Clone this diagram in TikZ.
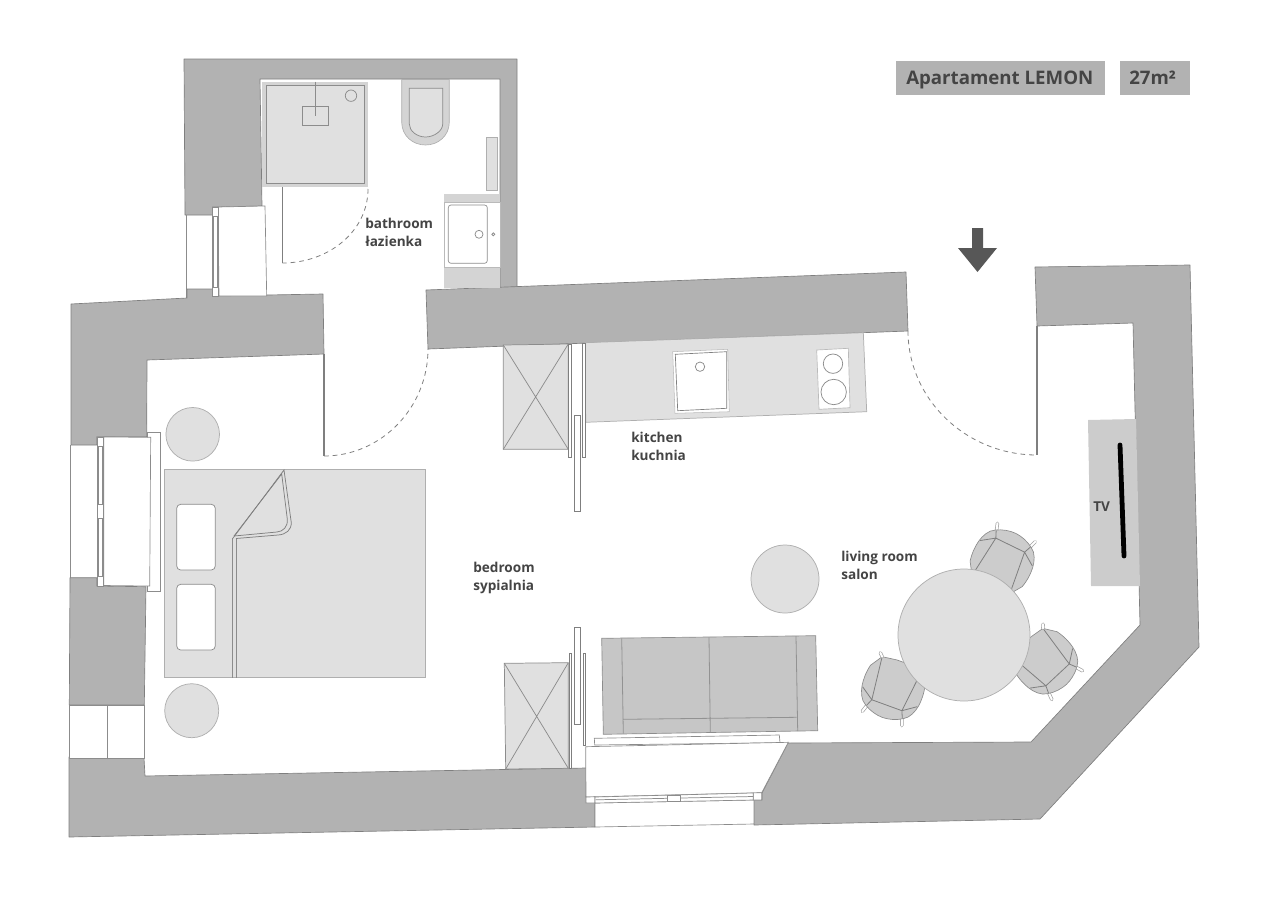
\documentclass[tikz,border=0pt]{standalone}
\usepackage{fontspec}
\setmainfont{Open Sans}
\definecolor{wallc}{HTML}{B2B2B2}
\definecolor{edgec}{HTML}{7F7F7F}
\definecolor{lightf}{HTML}{E0E0E0}
\definecolor{midf}{HTML}{CCCCCC}
\definecolor{sofaf}{HTML}{C6C6C6}
\definecolor{linec}{HTML}{8C8C8C}
\definecolor{txt}{HTML}{444444}
\tikzset{
  wallshape/.style={fill=wallc,draw=edgec,line width=0.5pt,line join=round},
  thinl/.style={draw=linec,line width=0.55pt},
  whitebox/.style={fill=white,draw=linec,line width=0.5pt},
  furn/.style={fill=lightf,draw=linec!70,line width=0.55pt},
  doorline/.style={draw=edgec,line width=0.9pt},
  swing/.style={draw=edgec,line width=0.6pt,dash pattern=on 3.5pt off 3pt},
  slide/.style={fill=white,draw=edgec,line width=0.7pt},
  lab/.style={anchor=base west,inner sep=0pt,font=\bfseries\fontsize{10.2}{12}\selectfont,text=txt},
  title/.style={anchor=base west,inner sep=0pt,font=\bfseries\fontsize{14}{16}\selectfont,text=txt},
  tag/.style={fill=wallc,draw=none},
}
\newcommand{\chairleg}[4]{%
  \draw[draw=linec!80,line width=2.6pt,line cap=round] (#1,#2) -- (#3,#4);
  \draw[white,line width=1.5pt,line cap=round] (#1,#2) -- (#3,#4);}
\newcommand{\mychair}[3]{%
  \begin{scope}[shift={(#1,#2)},rotate=#3]
    \chairleg{20}{-17}{32}{-21}
    \chairleg{20}{17}{32}{21}
    \draw[fill=midf,draw=linec,line width=0.5pt] (-28,-6) -- (-26,-21) -- (-14,-29)
      .. controls (-6,-31) and (2,-31) .. (8,-30)
      .. controls (14,-29) and (22,-26) .. (25,-20)
      .. controls (29,-14) and (31,-6) .. (31,0)
      .. controls (31,6) and (29,14) .. (25,20)
      .. controls (22,26) and (14,29) .. (8,30)
      .. controls (2,31) and (-6,31) .. (-14,29) -- (-26,21) -- (-28,6) -- cycle;
    \draw[draw=edgec,line width=0.6pt] (-26,-21) -- (18,-16) -- (18,16) -- (-26,21)
      (18,-16) -- (25,-19) (18,-16) -- (9,-29) (18,16) -- (25,19) (18,16) -- (9,29);
  \end{scope}}
\begin{document}
\begin{tikzpicture}[x=0.75pt,y=-0.75pt]
\useasboundingbox (0,0) rectangle (1274,900);
% openings
\fill[white] (70,445) rectangle (147,578);
\draw[thinl] (70,445) -- (70,578);
\draw[thinl] (186,215) -- (186,298);
% walls
\draw[wallshape] (184,59) -- (517,59) -- (517,287) -- (500,288) -- (500,87) -- (500,79) -- (260,79) -- (262,206) -- (212.5,207) -- (212.5,215) -- (185,215) -- cycle;
\draw[wallshape] (426,290) -- (906,272) -- (908,331) -- (428,349) -- cycle;
\draw[wallshape] (1035,267) -- (1190,265) -- (1199,647) -- (1040,819) -- (754,825) -- (754,800) -- (762,800) -- (762,793) -- (788,743) -- (1031,742) -- (1140,625) -- (1133,323) -- (1037,326) -- cycle;
\draw[wallshape] (71,304) -- (187,298) -- (187,289) -- (212.5,289) -- (212.5,296) -- (323,294) -- (324,354) -- (147,360) -- (146.7,436.7) -- (96.7,436.7) -- (96.7,445) -- (71,445) -- cycle;
\draw[wallshape] (70,577.7) -- (96.7,577.7) -- (96.7,586) -- (146,586.7) -- (144.3,705) -- (69.3,705) -- cycle;
\draw[wallshape] (69,757) -- (144,758) -- (145,776) -- (586,768) -- (586,797) -- (595,803) -- (595,827) -- (69,837) -- cycle;
% low window
\draw[whitebox] (69.3,705) rectangle (144.3,758);
\draw[thinl] (107,705) -- (107,758);
% bathroom window
\draw[whitebox] (218,207) -- (265,206) -- (266.7,296) -- (219,296) -- cycle;
\draw[whitebox] (212.7,207) rectangle (218.7,296);
\draw[whitebox] (213.5,216.7) rectangle (217.5,287);
% bedroom window
\draw[whitebox] (147.3,432) rectangle (160.7,591.7);
\draw[whitebox] (103.7,437) -- (150.7,437.3) -- (149.7,586) -- (103.7,585.5) -- cycle;
\draw[whitebox] (97,437) rectangle (103.7,586);
\draw[whitebox] (98.5,446) rectangle (102.5,576);
\draw[whitebox] (97,504.5) rectangle (103.7,518);
% shower
\draw[fill=midf!60!lightf,draw=none] (261.7,81.7) rectangle (368,187.3);
\draw[furn,draw=linec] (266.7,85.7) rectangle (364,183);
\draw[thinl] (302.3,106) rectangle (328.3,125.7);
\draw[thinl] (315,81.7) -- (315,116);
\draw[thinl] (351,95.7) circle (5.7);
\draw[doorline,line width=0.5pt] (282.3,187.3) -- (282.3,263);
\draw[swing] (368,189) .. controls (368,231) and (329,263) .. (282.3,263);
% toilet
\draw[fill=midf!60!lightf,draw=linec!70,line width=0.5pt] (401.7,79.5) -- (449.3,79.5) -- (449.3,122) .. controls (449.3,136) and (438,145) .. (425.5,145) .. controls (413,145) and (401.7,136) .. (401.7,122) -- cycle;
\draw[furn,draw=linec] (409.3,88.3) -- (442.7,88.3) -- (442.7,124) .. controls (442.7,131) and (434,137) .. (425.5,137) .. controls (417,137) and (409.3,131) .. (409.3,124) -- cycle;
% rail
\draw[furn] (486.7,137.3) rectangle (497.7,190.7);
% washbasin
\draw[fill=midf!60!lightf,draw=none] (444.3,194.3) rectangle (500,288);
\draw[fill=white,draw=linec!60,line width=0.4pt] (444.3,202.7) rectangle (500,267);
\draw[whitebox,rounded corners=2pt] (448.3,205) rectangle (487.3,263.3);
\draw[thinl] (479,234.3) circle (4);
\draw[thinl] (493.3,234.3) circle (1.5);
% door to bedroom
\draw[doorline] (324,354) -- (324,456);
\draw[swing] (324,456) .. controls (381,456) and (428,408) .. (428,349);
% entry door
\draw[doorline] (1037,326) -- (1037,455);
\draw[swing] (908,331) .. controls (908,399) and (966,455) .. (1037,455);
% arrow
\fill[txt!90!white] (972,228) -- (983,228) -- (983,248) -- (997,248) -- (977.5,272) -- (958,248) -- (972,248) -- cycle;
% title
\fill[tag] (896,61) rectangle (1105,95);
\fill[tag] (1120,61) rectangle (1190,95);
\node[title] (tname) at (906,84) {Apartament LEMON};
\node[title] (tarea) at (1129,84) {27m²};
% kitchen
\draw[furn] (585,342.7) -- (863.3,332.7) -- (866.7,411.7) -- (585.7,422.3) -- cycle;
\draw[fill=white,draw=linec!60,line width=0.4pt] (672.7,351.7) -- (727.7,349.3) -- (729.3,411.7) -- (675,413.3) -- cycle;
\draw[whitebox,draw=edgec] (675.3,354.3) -- (726.7,351.7) -- (726.7,408.3) -- (677.7,410.7) -- cycle;
\draw[thinl] (700,366.7) circle (4.7);
\draw[whitebox,draw=linec!60] (816.7,350) -- (848.3,348.3) -- (850,407.7) -- (819,409.3) -- cycle;
\draw[thinl] (833,363.7) circle (9.7);
\draw[thinl] (833.7,392) circle (12.7);
% wardrobe upper
\draw[furn,draw=linec] (503.3,345) -- (568.3,344) -- (568.3,449.3) -- (503.3,449.3) -- cycle;
\draw[thinl] (503.3,345) -- (568.3,449.3) (568.3,344) -- (503.3,449.3);
\draw[slide] (568.3,344) rectangle (571.7,457.3);
\draw[slide] (582.7,343) rectangle (585.7,457.3);
\draw[slide] (574.3,415.7) rectangle (580,511.7);
% wardrobe lower
\draw[furn,draw=linec] (504.3,663.3) -- (568.3,662.7) -- (568.3,768.3) -- (505.7,769) -- cycle;
\draw[thinl] (504.3,663.3) -- (568.3,768.3) (568.3,662.7) -- (505.7,769);
\draw[slide] (569,653.3) rectangle (571.7,768.3);
\draw[slide] (583.3,653.3) rectangle (585.7,745);
\draw[slide] (574.3,627.3) rectangle (580,724);
% sofa
\draw[fill=sofaf,draw=linec,line width=0.5pt] (601.7,638.3) -- (815.7,635.7) -- (817.7,730.7) -- (603.3,734.3) -- cycle;
\draw[draw=edgec!85,line width=0.6pt] (621.7,638.3) -- (623.3,733.6) (709,637.3) -- (710.3,732.5) (796,636) -- (797.7,731) (623.3,719.3) -- (796.7,717.3);
% balcony door
\draw[whitebox] (594.3,738.3) -- (779.3,735) -- (780,742.7) -- (594.7,745) -- cycle;
\draw[whitebox] (585.7,746.7) -- (788.3,742.3) -- (761.7,792.7) -- (586,797) -- cycle;
\draw[whitebox] (595,803) -- (754,800) -- (754,824) -- (595,827) -- cycle;
\draw[whitebox] (586,797) -- (595,796.8) -- (595,803) -- (586,803) -- cycle;
\draw[whitebox] (753.3,792.9) -- (761.7,792.7) -- (761.7,800) -- (753.3,800) -- cycle;
\draw[whitebox] (595,797) -- (753.3,793) -- (753.3,800) -- (595,803) -- cycle;
\draw[thinl] (595.5,799.8) -- (753,796.5);
\draw[whitebox] (667.3,795.5) rectangle (680,801.5);
% bed
\draw[furn] (164.3,469.3) rectangle (425.7,677.7);
\draw[fill=white,draw=linec,line width=0.55pt,rounded corners=3pt] (176.7,504.3) rectangle (215.3,570);
\draw[fill=white,draw=linec,line width=0.55pt,rounded corners=3pt] (176.7,584.3) rectangle (215.3,650);
\draw[thinl] (232.3,677.7) -- (232.3,539) (236.7,677.7) -- (236.7,539);
\draw[thinl,draw=edgec] (232.3,539) -- (284,470) -- (291.2,522) .. controls (291.8,530) and (286,534.5) .. (278,535) -- (236,538.5);
\draw[thinl,draw=edgec] (234,536) -- (281.7,474) -- (287.3,519) .. controls (288,527) and (283,531.5) .. (277,532) -- (234,536);
% round tables
\draw[furn] (192.7,434.3) circle (26.8);
\draw[furn] (191.7,710.7) circle (27);
\draw[furn] (785,579) circle (34);
% chairs
\mychair{1002.3}{561.3}{64}
\mychair{1045.3}{661.7}{-47}
\mychair{893}{688.3}{-110}
\begin{scope}[shift={(1045.3,661.7)},rotate=-47]
  \chairleg{-26}{-21}{-29}{-24}
\end{scope}
\begin{scope}[shift={(893,688.3)},rotate=-110]
  \chairleg{-26}{21}{-29}{24}
\end{scope}
\draw[furn] (964,635) circle (66);
% TV
\fill[midf] (1088,420) -- (1136,419) -- (1140,586) -- (1091,586) -- cycle;
\draw[black,line width=3.6pt,line cap=round] (1120,445) -- (1124,556);
% labels
\node[lab] (l1) at (365,228) {bathroom};
\node[lab] (l2) at (365,246) {łazienka};
\node[lab] (l3) at (631,442) {kitchen};
\node[lab] (l4) at (631,460) {kuchnia};
\node[lab] (l5) at (473,572) {bedroom};
\node[lab] (l6) at (473,590) {sypialnia};
\node[lab] (l7) at (841,561) {living room};
\node[lab] (l8) at (841,579) {salon};
\node[lab] (l9) at (1093,511) {TV};
\end{tikzpicture}
\end{document}
